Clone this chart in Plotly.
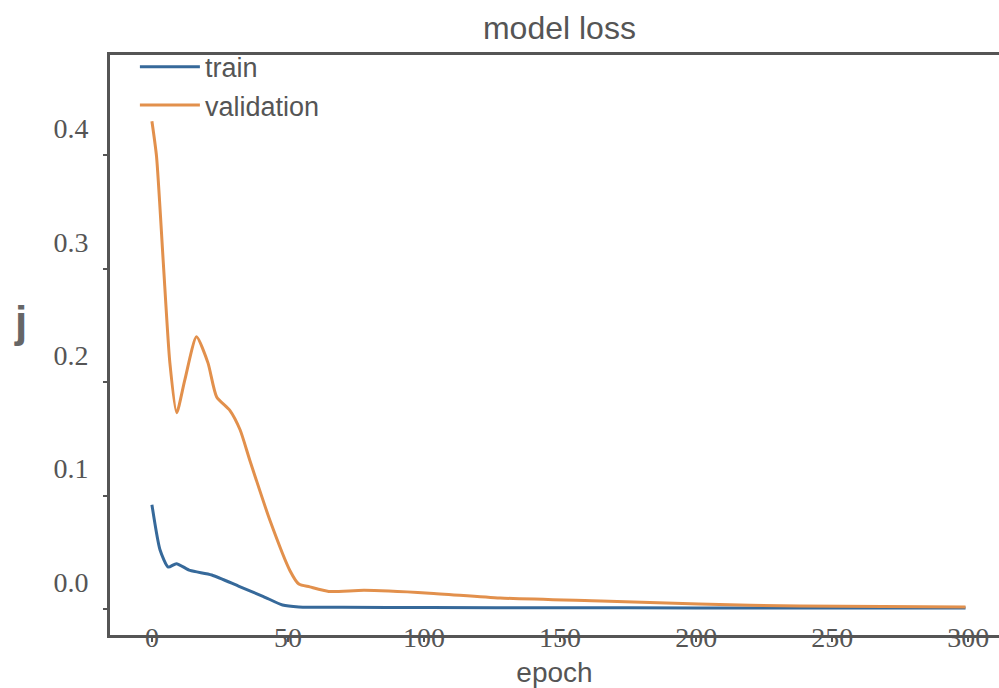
import plotly.graph_objects as go

# ---- data ----
train_epochs = [0, 3, 6, 9, 14, 22, 32, 41, 48, 54, 70, 102, 150, 200, 250, 299]
train_loss = [0.092, 0.052, 0.037, 0.040, 0.034, 0.030, 0.020, 0.011, 0.0035, 0.0018, 0.0015, 0.0013, 0.0011, 0.0010, 0.0009, 0.0009]

val_epochs = [0, 1.7, 4.2, 6.6, 9.1, 12.1, 16.4, 20.6, 23.8, 28.7, 32.4, 36, 43.4, 50.7, 54, 58, 65, 78, 102, 128, 165, 201, 238, 299]
val_loss = [0.43, 0.399, 0.305, 0.217, 0.173, 0.202, 0.240, 0.217, 0.187, 0.175, 0.158, 0.131, 0.078, 0.034, 0.022, 0.0195, 0.0155, 0.0165, 0.014, 0.0097, 0.007, 0.0044, 0.0026, 0.0018]

x_ticks = [0, 50, 100, 150, 200, 250, 300]
y_ticks = [0.0, 0.1, 0.2, 0.3, 0.4]
y_tick_labels = ["0.0", "0.1", "0.2", "0.3", "0.4"]

TRAIN_COLOR = "#36699a"
VAL_COLOR = "#e2904c"
AXIS_COLOR = "#555555"
TEXT_COLOR = "#555555"

fig = go.Figure()
fig.add_trace(go.Scatter(x=train_epochs, y=train_loss, mode="lines", name="train",
                         line=dict(color=TRAIN_COLOR, width=3, shape="spline", smoothing=0.6)))
fig.add_trace(go.Scatter(x=val_epochs, y=val_loss, mode="lines", name="validation",
                         line=dict(color=VAL_COLOR, width=3, shape="spline", smoothing=0.6)))

fig.update_layout(
    width=999, height=688,
    margin=dict(l=110, r=0, t=55, b=53),
    paper_bgcolor="white", plot_bgcolor="white",
    title=dict(text="model loss", x=0.56, xanchor="center", y=0.96, yanchor="middle",
               font=dict(family="Liberation Sans, Arial, sans-serif", size=32, color=TEXT_COLOR)),
    legend=dict(x=0.028, y=1.021, xanchor="left", yanchor="top", bgcolor="rgba(0,0,0,0)",
                font=dict(family="Liberation Sans, Arial, sans-serif", size=27, color=TEXT_COLOR),
                itemwidth=60),
    xaxis=dict(range=[-15.4, 311.3], tickvals=x_ticks, showgrid=False, zeroline=False,
               showline=True, linecolor=AXIS_COLOR, linewidth=3, mirror=True,
               ticks="outside", ticklen=4, tickwidth=2, tickcolor=AXIS_COLOR,
               ticklabelstandoff=-29,
               tickfont=dict(family="Liberation Serif, Times New Roman, serif", size=28, color=TEXT_COLOR),
               title=dict(text="epoch", standoff=14,
                          font=dict(family="Liberation Sans, Arial, sans-serif", size=28, color=TEXT_COLOR))),
    yaxis=dict(range=[-0.0229, 0.4884], tickvals=y_ticks, ticktext=y_tick_labels,
               showgrid=False, zeroline=False,
               showline=True, linecolor=AXIS_COLOR, linewidth=3, mirror=False,
               ticks="outside", ticklen=4, tickwidth=2, tickcolor=AXIS_COLOR,
               ticklabelshift=-27, ticklabelstandoff=9,
               tickfont=dict(family="Liberation Serif, Times New Roman, serif", size=28, color=TEXT_COLOR)),
    showlegend=True,
)

fig.add_annotation(text="<b>j</b>", xref="paper", yref="paper", x=-0.101, y=0.54,
                   showarrow=False, xanchor="center", yanchor="middle",
                   font=dict(family="Liberation Sans, Arial, sans-serif", size=44, color="#666666"))

fig.write_html("out.html")
